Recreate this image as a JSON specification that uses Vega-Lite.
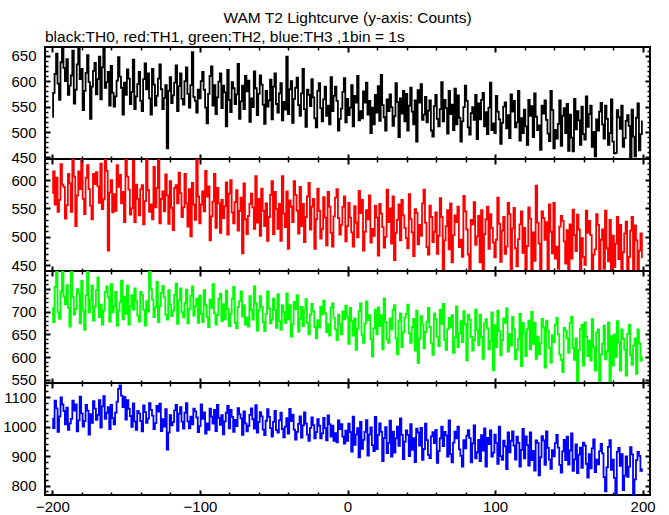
{
"$schema": "https://vega.github.io/schema/vega-lite/v6.json",
"background": "white",
"padding": {"left": 1, "top": 10, "right": 5, "bottom": 1},
"title": {"text": "WAM T2 Lightcurve (y-axis: Counts)", "anchor": "middle", "frame": "group", "font": "Liberation Sans", "fontSize": 15.5, "fontWeight": "normal", "color": "black", "offset": 3},
"spacing": 0,
"bounds": "flush",
"resolve": {"scale": {"y": "independent"}},
"config": {
  "view": {"stroke": "black", "strokeWidth": 2},
  "axis": {"domain": false, "grid": false, "labelFont": "Liberation Sans", "labelFontSize": 15, "labelColor": "black", "tickColor": "black", "labelFlush": false, "labelOverlap": false, "labelBound": false}
},
"data": {"values": [
{"t":-200,"a":530,"b":577,"c":708,"d":1027},{"t":-198,"a":614,"b":557,"c":754,"d":1088},{"t":-199,"a":577,"b":615,"c":677,"d":995},{"t":-197,"a":654,"b":604,"c":792,"d":1062},{"t":-196,"a":595,"b":544,"c":698,"d":982},
{"t":-194,"a":637,"b":628,"c":744,"d":1099},{"t":-195,"a":563,"b":565,"c":684,"d":1035},{"t":-193,"a":675,"b":592,"c":789,"d":1075},{"t":-191,"a":600,"b":532,"c":716,"d":1008},{"t":-192,"a":626,"b":588,"c":733,"d":1053},
{"t":-189,"a":573,"b":611,"c":708,"d":989},{"t":-190,"a":643,"b":556,"c":758,"d":1064},{"t":-188,"a":591,"b":594,"c":667,"d":1011},{"t":-186,"a":660,"b":641,"c":732,"d":1088},{"t":-187,"a":611,"b":544,"c":795,"d":1026},
{"t":-185,"a":556,"b":606,"c":693,"d":1054},{"t":-183,"a":633,"b":573,"c":749,"d":984},{"t":-184,"a":583,"b":519,"c":705,"d":1075},{"t":-182,"a":668,"b":615,"c":740,"d":1021},{"t":-181,"a":604,"b":584,"c":674,"d":1102},
{"t":-180,"a":624,"b":655,"c":767,"d":1045},{"t":-179,"a":543,"b":567,"c":702,"d":1000},{"t":-177,"a":616,"b":604,"c":736,"d":1074},{"t":-178,"a":581,"b":540,"c":660,"d":1019},{"t":-176,"a":651,"b":626,"c":791,"d":1054},
{"t":-175,"a":598,"b":584,"c":698,"d":973},{"t":-174,"a":526,"b":555,"c":725,"d":1042},{"t":-172,"a":620,"b":611,"c":680,"d":1086},{"t":-173,"a":589,"b":531,"c":757,"d":1013},{"t":-171,"a":636,"b":593,"c":711,"d":1061},
{"t":-170,"a":574,"b":614,"c":747,"d":1023},{"t":-168,"a":648,"b":560,"c":688,"d":1090},{"t":-169,"a":604,"b":589,"c":775,"d":1040},{"t":-167,"a":564,"b":629,"c":715,"d":997},{"t":-166,"a":627,"b":549,"c":671,"d":1069},
{"t":-164,"a":587,"b":640,"c":743,"d":1026},{"t":-165,"a":668,"b":566,"c":702,"d":1103},{"t":-163,"a":598,"b":616,"c":755,"d":1047},{"t":-161,"a":552,"b":578,"c":678,"d":992},{"t":-162,"a":618,"b":476,"c":731,"d":1066},
{"t":-159,"a":577,"b":543,"c":698,"d":1029},{"t":-160,"a":630,"b":600,"c":760,"d":1074},{"t":-158,"a":550,"b":575,"c":711,"d":1008},{"t":-156,"a":601,"b":626,"c":669,"d":1085},{"t":-157,"a":570,"b":546,"c":743,"d":1047},
{"t":-155,"a":647,"b":588,"c":702,"d":1128},{"t":-153,"a":587,"b":559,"c":768,"d":1105},{"t":-154,"a":609,"b":609,"c":720,"d":1140},{"t":-152,"a":534,"b":579,"c":683,"d":1066},{"t":-151,"a":597,"b":526,"c":732,"d":1101},
{"t":-150,"a":573,"b":639,"c":695,"d":1024},{"t":-149,"a":623,"b":606,"c":757,"d":1090},{"t":-147,"a":555,"b":539,"c":712,"d":1036},{"t":-148,"a":605,"b":583,"c":671,"d":1060},{"t":-146,"a":579,"b":550,"c":736,"d":999},
{"t":-145,"a":642,"b":634,"c":704,"d":1079},{"t":-144,"a":545,"b":526,"c":751,"d":1018},{"t":-142,"a":594,"b":567,"c":691,"d":1053},{"t":-143,"a":570,"b":592,"c":723,"d":989},{"t":-141,"a":618,"b":538,"c":678,"d":1045},
{"t":-140,"a":561,"b":584,"c":743,"d":1019},{"t":-138,"a":604,"b":522,"c":704,"d":1072},{"t":-139,"a":541,"b":591,"c":736,"d":984},{"t":-137,"a":635,"b":563,"c":669,"d":1049},{"t":-136,"a":584,"b":642,"c":723,"d":1013},
{"t":-134,"a":566,"b":544,"c":790,"d":1080},{"t":-135,"a":615,"b":582,"c":700,"d":1027},{"t":-133,"a":534,"b":557,"c":749,"d":1057},{"t":-131,"a":593,"b":623,"c":688,"d":992},{"t":-132,"a":624,"b":531,"c":726,"d":1037},
{"t":-129,"a":571,"b":586,"c":765,"d":1070},{"t":-130,"a":552,"b":552,"c":709,"d":1012},{"t":-128,"a":605,"b":640,"c":677,"d":1051},{"t":-126,"a":584,"b":567,"c":741,"d":985},{"t":-127,"a":633,"b":524,"c":712,"d":1078},
{"t":-125,"a":545,"b":580,"c":756,"d":1025},{"t":-123,"a":592,"b":610,"c":693,"d":1059},{"t":-124,"a":567,"b":545,"c":731,"d":1000},{"t":-122,"a":468,"b":573,"c":682,"d":922},{"t":-121,"a":581,"b":523,"c":747,"d":980},
{"t":-120,"a":608,"b":598,"c":715,"d":1039},{"t":-119,"a":557,"b":551,"c":690,"d":1004},{"t":-117,"a":597,"b":586,"c":737,"d":1055},{"t":-118,"a":572,"b":512,"c":702,"d":1015},{"t":-116,"a":631,"b":591,"c":761,"d":1074},
{"t":-115,"a":541,"b":559,"c":673,"d":986},{"t":-114,"a":590,"b":613,"c":725,"d":1044},{"t":-112,"a":565,"b":535,"c":698,"d":1017},{"t":-113,"a":615,"b":577,"c":751,"d":1066},{"t":-111,"a":554,"b":552,"c":687,"d":993},
{"t":-110,"a":600,"b":611,"c":719,"d":1047},{"t":-108,"a":575,"b":518,"c":674,"d":1018},{"t":-109,"a":627,"b":559,"c":748,"d":1080},{"t":-107,"a":548,"b":584,"c":706,"d":994},{"t":-106,"a":592,"b":501,"c":735,"d":1034},
{"t":-104,"a":569,"b":557,"c":691,"d":1061},{"t":-105,"a":657,"b":595,"c":755,"d":1008},{"t":-103,"a":561,"b":530,"c":712,"d":1052},{"t":-101,"a":583,"b":571,"c":675,"d":981},{"t":-102,"a":538,"b":638,"c":728,"d":1031},
{"t":-99,"a":600,"b":557,"c":695,"d":1075},{"t":-100,"a":566,"b":524,"c":735,"d":1002},{"t":-98,"a":618,"b":580,"c":677,"d":1026},{"t":-96,"a":548,"b":616,"c":714,"d":976},{"t":-97,"a":583,"b":545,"c":747,"d":1048},
{"t":-95,"a":517,"b":571,"c":687,"d":1011},{"t":-93,"a":610,"b":494,"c":726,"d":1061},{"t":-94,"a":575,"b":589,"c":666,"d":989},{"t":-92,"a":629,"b":536,"c":708,"d":1034},{"t":-91,"a":552,"b":562,"c":760,"d":1010},
{"t":-90,"a":592,"b":611,"c":696,"d":1057},{"t":-89,"a":535,"b":516,"c":671,"d":985},{"t":-87,"a":599,"b":559,"c":728,"d":1030},{"t":-88,"a":568,"b":586,"c":692,"d":1074},{"t":-86,"a":615,"b":507,"c":739,"d":1006},
{"t":-85,"a":547,"b":565,"c":679,"d":1039},{"t":-84,"a":591,"b":533,"c":716,"d":974},{"t":-82,"a":511,"b":596,"c":746,"d":1047},{"t":-83,"a":578,"b":554,"c":683,"d":1018},{"t":-81,"a":622,"b":504,"c":706,"d":1070},
{"t":-80,"a":563,"b":576,"c":668,"d":994},{"t":-78,"a":598,"b":543,"c":728,"d":1033},{"t":-79,"a":539,"b":600,"c":695,"d":1057},{"t":-77,"a":586,"b":524,"c":754,"d":982},{"t":-76,"a":555,"b":561,"c":675,"d":1023},
{"t":-74,"a":634,"b":511,"c":710,"d":1063},{"t":-75,"a":574,"b":582,"c":663,"d":1002},{"t":-73,"a":526,"b":546,"c":723,"d":1042},{"t":-71,"a":591,"b":471,"c":689,"d":972},{"t":-72,"a":560,"b":569,"c":744,"d":1028},
{"t":-69,"a":610,"b":531,"c":671,"d":1011},{"t":-70,"a":545,"b":594,"c":714,"d":1052},{"t":-68,"a":580,"b":505,"c":687,"d":984},{"t":-66,"a":520,"b":558,"c":734,"d":1040},{"t":-67,"a":601,"b":537,"c":667,"d":1003},
{"t":-65,"a":566,"b":576,"c":703,"d":1062},{"t":-63,"a":619,"b":514,"c":755,"d":993},{"t":-64,"a":549,"b":552,"c":682,"d":1025},{"t":-62,"a":586,"b":607,"c":718,"d":1073},{"t":-61,"a":533,"b":525,"c":658,"d":980},
{"t":-60,"a":575,"b":567,"c":703,"d":1016},{"t":-59,"a":611,"b":502,"c":734,"d":1049},{"t":-57,"a":554,"b":546,"c":676,"d":990},{"t":-58,"a":593,"b":585,"c":710,"d":1035},{"t":-56,"a":516,"b":519,"c":657,"d":971},
{"t":-55,"a":581,"b":559,"c":695,"d":1020},{"t":-54,"a":550,"b":493,"c":744,"d":1059},{"t":-52,"a":603,"b":574,"c":674,"d":995},{"t":-53,"a":562,"b":535,"c":707,"d":1033},{"t":-51,"a":525,"b":598,"c":682,"d":966},
{"t":-50,"a":589,"b":505,"c":728,"d":1016},{"t":-48,"a":555,"b":549,"c":664,"d":988},{"t":-49,"a":615,"b":579,"c":703,"d":1053},{"t":-47,"a":538,"b":514,"c":738,"d":980},{"t":-46,"a":576,"b":558,"c":679,"d":1021},
{"t":-44,"a":523,"b":607,"c":714,"d":992},{"t":-45,"a":596,"b":493,"c":660,"d":1047},{"t":-43,"a":559,"b":541,"c":699,"d":964},{"t":-41,"a":648,"b":580,"c":740,"d":1029},{"t":-42,"a":544,"b":517,"c":675,"d":1000},
{"t":-39,"a":584,"b":564,"c":714,"d":1060},{"t":-40,"a":535,"b":479,"c":683,"d":976},{"t":-38,"a":600,"b":553,"c":645,"d":1019},{"t":-36,"a":565,"b":598,"c":721,"d":990},{"t":-37,"a":518,"b":526,"c":672,"d":1041},
{"t":-35,"a":587,"b":574,"c":705,"d":956},{"t":-33,"a":553,"b":506,"c":656,"d":1009},{"t":-34,"a":607,"b":546,"c":736,"d":982},{"t":-32,"a":532,"b":588,"c":684,"d":1035},{"t":-31,"a":576,"b":519,"c":710,"d":963},
{"t":-30,"a":624,"b":558,"c":668,"d":1004},{"t":-29,"a":545,"b":491,"c":704,"d":1048},{"t":-27,"a":583,"b":571,"c":675,"d":973},{"t":-28,"a":510,"b":535,"c":727,"d":1010},{"t":-26,"a":573,"b":595,"c":650,"d":952},
{"t":-25,"a":551,"b":513,"c":693,"d":996},{"t":-24,"a":604,"b":553,"c":717,"d":1031},{"t":-22,"a":527,"b":479,"c":666,"d":960},{"t":-23,"a":568,"b":567,"c":700,"d":1005},{"t":-21,"a":509,"b":531,"c":641,"d":981},
{"t":-20,"a":581,"b":585,"c":681,"d":1025},{"t":-18,"a":547,"b":497,"c":710,"d":960},{"t":-19,"a":596,"b":546,"c":665,"d":1003},{"t":-17,"a":521,"b":514,"c":693,"d":977},{"t":-16,"a":564,"b":570,"c":724,"d":1030},
{"t":-14,"a":532,"b":485,"c":655,"d":953},{"t":-15,"a":589,"b":534,"c":696,"d":995},{"t":-13,"a":552,"b":579,"c":672,"d":1038},{"t":-11,"a":608,"b":507,"c":709,"d":966},{"t":-12,"a":515,"b":553,"c":647,"d":1008},
{"t":-9,"a":571,"b":536,"c":686,"d":952},{"t":-10,"a":541,"b":483,"c":718,"d":1003},{"t":-8,"a":589,"b":569,"c":661,"d":978},{"t":-6,"a":503,"b":533,"c":693,"d":1021},{"t":-7,"a":561,"b":584,"c":637,"d":947},
{"t":-5,"a":526,"b":504,"c":673,"d":992},{"t":-3,"a":579,"b":553,"c":700,"d":966},{"t":-4,"a":546,"b":521,"c":650,"d":1008},{"t":-2,"a":606,"b":571,"c":683,"d":942},{"t":-1,"a":519,"b":492,"c":713,"d":986},
{"t":0,"a":565,"b":519,"c":689,"d":952},{"t":1,"a":533,"b":560,"c":629,"d":1010},{"t":3,"a":592,"b":508,"c":679,"d":915},{"t":2,"a":548,"b":534,"c":708,"d":981},{"t":4,"a":511,"b":483,"c":647,"d":1034},
{"t":5,"a":571,"b":554,"c":685,"d":938},{"t":6,"a":558,"b":525,"c":616,"d":973},{"t":8,"a":523,"b":581,"c":701,"d":896},{"t":7,"a":610,"b":499,"c":662,"d":995},{"t":9,"a":541,"b":542,"c":718,"d":1016},
{"t":10,"a":527,"b":565,"c":649,"d":925},{"t":12,"a":558,"b":509,"c":674,"d":982},{"t":11,"a":580,"b":476,"c":631,"d":955},{"t":13,"a":597,"b":547,"c":722,"d":1022},{"t":14,"a":534,"b":531,"c":681,"d":902},
{"t":16,"a":498,"b":490,"c":639,"d":997},{"t":15,"a":561,"b":573,"c":692,"d":973},{"t":17,"a":548,"b":514,"c":601,"d":937},{"t":19,"a":573,"b":555,"c":704,"d":1033},{"t":18,"a":515,"b":502,"c":663,"d":917},
{"t":21,"a":590,"b":467,"c":709,"d":972},{"t":20,"a":538,"b":534,"c":650,"d":924},{"t":22,"a":522,"b":558,"c":668,"d":1011},{"t":24,"a":553,"b":517,"c":617,"d":883},{"t":23,"a":612,"b":541,"c":692,"d":982},
{"t":25,"a":529,"b":481,"c":729,"d":961},{"t":27,"a":564,"b":583,"c":639,"d":910},{"t":26,"a":503,"b":500,"c":677,"d":998},{"t":28,"a":541,"b":526,"c":631,"d":945},{"t":29,"a":574,"b":550,"c":685,"d":1020},
{"t":30,"a":549,"b":488,"c":661,"d":898},{"t":31,"a":512,"b":571,"c":704,"d":983},{"t":33,"a":596,"b":507,"c":641,"d":960},{"t":32,"a":531,"b":459,"c":714,"d":912},{"t":34,"a":559,"b":530,"c":606,"d":1000},
{"t":35,"a":490,"b":557,"c":680,"d":935},{"t":36,"a":566,"b":494,"c":696,"d":1028},{"t":38,"a":581,"b":538,"c":654,"d":890},{"t":37,"a":536,"b":565,"c":622,"d":972},{"t":39,"a":521,"b":516,"c":687,"d":949},
{"t":40,"a":575,"b":498,"c":695,"d":987},{"t":42,"a":552,"b":575,"c":652,"d":900},{"t":41,"a":503,"b":480,"c":715,"d":972},{"t":43,"a":587,"b":531,"c":631,"d":1008},{"t":44,"a":540,"b":508,"c":666,"d":921},
{"t":46,"a":562,"b":549,"c":614,"d":880},{"t":45,"a":515,"b":466,"c":684,"d":961},{"t":47,"a":481,"b":542,"c":702,"d":993},{"t":49,"a":558,"b":521,"c":640,"d":936},{"t":48,"a":582,"b":487,"c":587,"d":980},
{"t":51,"a":524,"b":559,"c":671,"d":887},{"t":50,"a":594,"b":502,"c":690,"d":996},{"t":52,"a":534,"b":583,"c":619,"d":924},{"t":54,"a":519,"b":482,"c":678,"d":954},{"t":53,"a":569,"b":525,"c":655,"d":1010},
{"t":55,"a":542,"b":469,"c":708,"d":904},{"t":57,"a":503,"b":535,"c":631,"d":967},{"t":56,"a":562,"b":555,"c":666,"d":893},{"t":58,"a":491,"b":491,"c":605,"d":981},{"t":59,"a":551,"b":509,"c":696,"d":944},
{"t":60,"a":573,"b":543,"c":683,"d":989},{"t":61,"a":526,"b":470,"c":645,"d":877},{"t":63,"a":545,"b":568,"c":704,"d":960},{"t":62,"a":511,"b":502,"c":624,"d":917},{"t":64,"a":598,"b":535,"c":673,"d":1000},
{"t":65,"a":521,"b":436,"c":717,"d":934},{"t":66,"a":563,"b":494,"c":637,"d":982},{"t":68,"a":497,"b":547,"c":661,"d":898},{"t":67,"a":547,"b":519,"c":616,"d":970},{"t":69,"a":581,"b":478,"c":686,"d":1021},
{"t":70,"a":535,"b":559,"c":666,"d":907},{"t":72,"a":504,"b":503,"c":609,"d":946},{"t":71,"a":554,"b":455,"c":692,"d":879},{"t":73,"a":585,"b":538,"c":643,"d":983},{"t":74,"a":515,"b":526,"c":711,"d":960},
{"t":76,"a":528,"b":482,"c":652,"d":923},{"t":75,"a":572,"b":553,"c":622,"d":1000},{"t":77,"a":481,"b":495,"c":679,"d":901},{"t":79,"a":549,"b":572,"c":701,"d":954},{"t":78,"a":521,"b":465,"c":633,"d":864},
{"t":81,"a":561,"b":513,"c":593,"d":969},{"t":80,"a":591,"b":545,"c":672,"d":926},{"t":82,"a":509,"b":469,"c":693,"d":988},{"t":84,"a":537,"b":530,"c":644,"d":879},{"t":83,"a":495,"b":442,"c":682,"d":961},
{"t":85,"a":549,"b":522,"c":614,"d":943},{"t":87,"a":573,"b":486,"c":704,"d":892},{"t":86,"a":524,"b":561,"c":637,"d":1004},{"t":88,"a":486,"b":501,"c":659,"d":913},{"t":89,"a":556,"b":537,"c":626,"d":955},
{"t":90,"a":525,"b":455,"c":693,"d":883},{"t":91,"a":563,"b":547,"c":644,"d":971},{"t":93,"a":511,"b":505,"c":674,"d":994},{"t":92,"a":577,"b":435,"c":596,"d":919},{"t":94,"a":539,"b":531,"c":683,"d":864},
{"t":95,"a":496,"b":553,"c":663,"d":962},{"t":96,"a":548,"b":479,"c":617,"d":941},{"t":98,"a":504,"b":516,"c":698,"d":898},{"t":97,"a":597,"b":540,"c":635,"d":987},{"t":99,"a":517,"b":490,"c":571,"d":912},
{"t":100,"a":498,"b":464,"c":670,"d":973},{"t":102,"a":540,"b":569,"c":702,"d":874},{"t":101,"a":571,"b":495,"c":622,"d":944},{"t":103,"a":525,"b":523,"c":657,"d":1000},{"t":104,"a":477,"b":456,"c":604,"d":900},
{"t":106,"a":550,"b":535,"c":685,"d":952},{"t":105,"a":518,"b":511,"c":637,"d":887},{"t":107,"a":558,"b":470,"c":675,"d":933},{"t":109,"a":533,"b":560,"c":612,"d":980},{"t":108,"a":507,"b":483,"c":707,"d":856},
{"t":111,"a":574,"b":432,"c":625,"d":952},{"t":110,"a":488,"b":540,"c":651,"d":913},{"t":112,"a":540,"b":515,"c":688,"d":984},{"t":114,"a":509,"b":480,"c":595,"d":888},{"t":113,"a":561,"b":551,"c":661,"d":936},
{"t":115,"a":519,"b":448,"c":616,"d":966},{"t":117,"a":483,"b":522,"c":695,"d":864},{"t":116,"a":581,"b":496,"c":640,"d":945},{"t":118,"a":527,"b":545,"c":580,"d":921},{"t":119,"a":498,"b":472,"c":675,"d":992},
{"t":120,"a":544,"b":516,"c":654,"d":892},{"t":121,"a":511,"b":430,"c":602,"d":967},{"t":123,"a":563,"b":552,"c":680,"d":868},{"t":122,"a":475,"b":484,"c":662,"d":937},{"t":124,"a":532,"b":532,"c":617,"d":980},
{"t":125,"a":551,"b":428,"c":699,"d":886},{"t":126,"a":490,"b":508,"c":629,"d":918},{"t":128,"a":530,"b":590,"c":596,"d":953},{"t":127,"a":576,"b":458,"c":675,"d":851},{"t":129,"a":504,"b":525,"c":645,"d":945},
{"t":130,"a":513,"b":488,"c":606,"d":835},{"t":132,"a":552,"b":545,"c":684,"d":968},{"t":131,"a":465,"b":440,"c":630,"d":896},{"t":133,"a":536,"b":533,"c":665,"d":953},{"t":134,"a":562,"b":495,"c":577,"d":870},
{"t":136,"a":497,"b":430,"c":658,"d":928},{"t":135,"a":524,"b":526,"c":680,"d":984},{"t":137,"a":482,"b":557,"c":620,"d":888},{"t":139,"a":543,"b":471,"c":648,"d":920},{"t":138,"a":581,"b":509,"c":588,"d":857},
{"t":141,"a":504,"b":462,"c":671,"d":944},{"t":140,"a":468,"b":560,"c":633,"d":899},{"t":142,"a":487,"b":483,"c":686,"d":972},{"t":144,"a":562,"b":518,"c":606,"d":870},{"t":143,"a":516,"b":444,"c":650,"d":929},
{"t":145,"a":473,"b":537,"c":594,"d":844},{"t":147,"a":547,"b":492,"c":664,"d":955},{"t":146,"a":532,"b":528,"c":567,"d":916},{"t":148,"a":498,"b":453,"c":658,"d":886},{"t":149,"a":555,"b":512,"c":641,"d":966},
{"t":150,"a":463,"b":429,"c":609,"d":871},{"t":151,"a":534,"b":522,"c":675,"d":919},{"t":153,"a":462,"b":548,"c":620,"d":850},{"t":152,"a":489,"b":462,"c":689,"d":977},{"t":154,"a":565,"b":503,"c":594,"d":889},
{"t":155,"a":505,"b":475,"c":641,"d":940},{"t":156,"a":541,"b":539,"c":541,"d":842},{"t":158,"a":475,"b":433,"c":662,"d":929},{"t":157,"a":523,"b":513,"c":615,"d":905},{"t":159,"a":550,"b":498,"c":671,"d":860},
{"t":160,"a":496,"b":465,"c":581,"d":946},{"t":162,"a":570,"b":546,"c":645,"d":874},{"t":161,"a":485,"b":451,"c":676,"d":936},{"t":163,"a":510,"b":507,"c":602,"d":827},{"t":164,"a":535,"b":528,"c":636,"d":907},
{"t":166,"a":471,"b":433,"c":683,"d":926},{"t":165,"a":552,"b":503,"c":592,"d":858},{"t":167,"a":500,"b":469,"c":622,"d":957},{"t":169,"a":525,"b":540,"c":654,"d":888},{"t":168,"a":452,"b":478,"c":570,"d":846},
{"t":171,"a":540,"b":431,"c":541,"d":917},{"t":170,"a":503,"b":521,"c":661,"d":872},{"t":172,"a":557,"b":495,"c":606,"d":941},{"t":174,"a":487,"b":444,"c":669,"d":829},{"t":173,"a":515,"b":513,"c":629,"d":909},
{"t":175,"a":552,"b":546,"c":595,"d":780},{"t":177,"a":475,"b":457,"c":676,"d":931},{"t":176,"a":526,"b":480,"c":613,"d":862},{"t":178,"a":498,"b":530,"c":546,"d":954},{"t":179,"a":564,"b":436,"c":646,"d":853},
{"t":180,"a":481,"b":502,"c":581,"d":888},{"t":181,"a":458,"b":447,"c":650,"d":826},{"t":183,"a":543,"b":535,"c":679,"d":915},{"t":182,"a":459,"b":488,"c":600,"d":765},{"t":184,"a":529,"b":461,"c":632,"d":928},
{"t":185,"a":506,"b":521,"c":570,"d":867},{"t":186,"a":552,"b":432,"c":661,"d":907},{"t":188,"a":488,"b":506,"c":616,"d":834},{"t":187,"a":471,"b":473,"c":640,"d":785},{"t":189,"a":522,"b":527,"c":559,"d":899},
{"t":190,"a":533,"b":428,"c":651,"d":830},{"t":192,"a":449,"b":511,"c":604,"d":930},{"t":191,"a":512,"b":465,"c":671,"d":864},{"t":193,"a":544,"b":535,"c":583,"d":906},{"t":194,"a":491,"b":438,"c":625,"d":762},
{"t":196,"a":528,"b":494,"c":563,"d":886},{"t":195,"a":452,"b":520,"c":641,"d":821},{"t":197,"a":556,"b":430,"c":661,"d":914},{"t":199,"a":496,"b":506,"c":592,"d":850},{"t":198,"a":464,"b":476,"c":630,"d":901},
{"t":200,"a":521,"b":464,"c":599,"d":856}
]},
"vconcat": [
{
  "width": 605, "height": 112,
  "title": {"text": "black:TH0, red:TH1, green:TH2, blue:TH3 ,1bin = 1s", "anchor": "start", "frame": "group", "font": "Liberation Sans", "fontSize": 15.5, "fontWeight": "normal", "color": "black", "offset": -3},
  "layer": [
    {"mark": {"type": "line", "color": "#000000", "strokeWidth": 1.8, "interpolate": "step", "clip": true},
     "encoding": {
       "x": {"field": "t", "type": "quantitative", "scale": {"domain": [-205, 205], "nice": false, "zero": false}, "axis": null},
       "y": {"field": "a", "type": "quantitative", "scale": {"domain": [447, 667], "nice": false, "zero": false}, "axis": {"orient": "left", "values": [450, 500, 550, 600, 650], "format": "d", "ticks": false, "labelPadding": 9, "title": null}}}},
    {"mark": {"type": "line", "opacity": 0},
     "encoding": {
       "x": {"field": "t", "type": "quantitative", "axis": {"orient": "bottom", "values": [-200, -100, 0, 100, 200], "labels": false, "tickSize": -5, "tickWidth": 2, "title": null, "zindex": 1}},
       "y": {"field": "a", "type": "quantitative", "axis": {"orient": "left", "values": [450, 500, 550, 600, 650], "labels": false, "tickSize": -5, "tickWidth": 2, "title": null, "zindex": 1}}}},
    {"mark": {"type": "line", "opacity": 0},
     "encoding": {
       "x": {"field": "t", "type": "quantitative", "axis": {"orient": "bottom", "values": [-180, -160, -140, -120, -80, -60, -40, -20, 20, 40, 60, 80, 120, 140, 160, 180], "labels": false, "tickSize": -3, "tickWidth": 1.5, "title": null, "zindex": 1}},
       "y": {"field": "a", "type": "quantitative", "axis": {"orient": "left", "values": [460, 470, 480, 490, 510, 520, 530, 540, 560, 570, 580, 590, 610, 620, 630, 640, 660], "labels": false, "tickSize": -3, "tickWidth": 1.5, "title": null, "zindex": 1}}}},
    {"mark": {"type": "line", "opacity": 0},
     "encoding": {
       "x": {"field": "t", "type": "quantitative", "axis": {"orient": "top", "values": [-200, -100, 0, 100, 200], "labels": false, "tickSize": -5, "tickWidth": 2, "title": null, "zindex": 1}},
       "y": {"field": "a", "type": "quantitative", "axis": {"orient": "right", "values": [450, 500, 550, 600, 650], "labels": false, "tickSize": -5, "tickWidth": 2, "title": null, "zindex": 1}}}},
    {"mark": {"type": "line", "opacity": 0},
     "encoding": {
       "x": {"field": "t", "type": "quantitative", "axis": {"orient": "top", "values": [-180, -160, -140, -120, -80, -60, -40, -20, 20, 40, 60, 80, 120, 140, 160, 180], "labels": false, "tickSize": -3, "tickWidth": 1.5, "title": null, "zindex": 1}},
       "y": {"field": "a", "type": "quantitative", "axis": {"orient": "right", "values": [460, 470, 480, 490, 510, 520, 530, 540, 560, 570, 580, 590, 610, 620, 630, 640, 660], "labels": false, "tickSize": -3, "tickWidth": 1.5, "title": null, "zindex": 1}}}}
  ],
  "resolve": {"axis": {"x": "independent", "y": "independent"}}
},
{
  "width": 605, "height": 112,
  "layer": [
    {"mark": {"type": "line", "color": "#ff0000", "strokeWidth": 1.8, "interpolate": "step", "clip": true},
     "encoding": {
       "x": {"field": "t", "type": "quantitative", "scale": {"domain": [-205, 205], "nice": false, "zero": false}, "axis": null},
       "y": {"field": "b", "type": "quantitative", "scale": {"domain": [440, 637], "nice": false, "zero": false}, "axis": {"orient": "left", "values": [450, 500, 550, 600], "format": "d", "ticks": false, "labelPadding": 9, "title": null}}}},
    {"mark": {"type": "line", "opacity": 0},
     "encoding": {
       "x": {"field": "t", "type": "quantitative", "axis": {"orient": "bottom", "values": [-200, -100, 0, 100, 200], "labels": false, "tickSize": -5, "tickWidth": 2, "title": null, "zindex": 1}},
       "y": {"field": "b", "type": "quantitative", "axis": {"orient": "left", "values": [450, 500, 550, 600], "labels": false, "tickSize": -5, "tickWidth": 2, "title": null, "zindex": 1}}}},
    {"mark": {"type": "line", "opacity": 0},
     "encoding": {
       "x": {"field": "t", "type": "quantitative", "axis": {"orient": "bottom", "values": [-180, -160, -140, -120, -80, -60, -40, -20, 20, 40, 60, 80, 120, 140, 160, 180], "labels": false, "tickSize": -3, "tickWidth": 1.5, "title": null, "zindex": 1}},
       "y": {"field": "b", "type": "quantitative", "axis": {"orient": "left", "values": [460, 470, 480, 490, 510, 520, 530, 540, 560, 570, 580, 590, 610, 620, 630], "labels": false, "tickSize": -3, "tickWidth": 1.5, "title": null, "zindex": 1}}}},
    {"mark": {"type": "line", "opacity": 0},
     "encoding": {
       "x": {"field": "t", "type": "quantitative", "axis": {"orient": "top", "values": [-200, -100, 0, 100, 200], "labels": false, "tickSize": -5, "tickWidth": 2, "title": null, "zindex": 1}},
       "y": {"field": "b", "type": "quantitative", "axis": {"orient": "right", "values": [450, 500, 550, 600], "labels": false, "tickSize": -5, "tickWidth": 2, "title": null, "zindex": 1}}}},
    {"mark": {"type": "line", "opacity": 0},
     "encoding": {
       "x": {"field": "t", "type": "quantitative", "axis": {"orient": "top", "values": [-180, -160, -140, -120, -80, -60, -40, -20, 20, 40, 60, 80, 120, 140, 160, 180], "labels": false, "tickSize": -3, "tickWidth": 1.5, "title": null, "zindex": 1}},
       "y": {"field": "b", "type": "quantitative", "axis": {"orient": "right", "values": [460, 470, 480, 490, 510, 520, 530, 540, 560, 570, 580, 590, 610, 620, 630], "labels": false, "tickSize": -3, "tickWidth": 1.5, "title": null, "zindex": 1}}}}
  ],
  "resolve": {"axis": {"x": "independent", "y": "independent"}}
},
{
  "width": 605, "height": 112,
  "layer": [
    {"mark": {"type": "line", "color": "#00ff00", "strokeWidth": 1.8, "interpolate": "step", "clip": true},
     "encoding": {
       "x": {"field": "t", "type": "quantitative", "scale": {"domain": [-205, 205], "nice": false, "zero": false}, "axis": null},
       "y": {"field": "c", "type": "quantitative", "scale": {"domain": [543, 789], "nice": false, "zero": false}, "axis": {"orient": "left", "values": [550, 600, 650, 700, 750], "format": "d", "ticks": false, "labelPadding": 9, "title": null}}}},
    {"mark": {"type": "line", "opacity": 0},
     "encoding": {
       "x": {"field": "t", "type": "quantitative", "axis": {"orient": "bottom", "values": [-200, -100, 0, 100, 200], "labels": false, "tickSize": -5, "tickWidth": 2, "title": null, "zindex": 1}},
       "y": {"field": "c", "type": "quantitative", "axis": {"orient": "left", "values": [550, 600, 650, 700, 750], "labels": false, "tickSize": -5, "tickWidth": 2, "title": null, "zindex": 1}}}},
    {"mark": {"type": "line", "opacity": 0},
     "encoding": {
       "x": {"field": "t", "type": "quantitative", "axis": {"orient": "bottom", "values": [-180, -160, -140, -120, -80, -60, -40, -20, 20, 40, 60, 80, 120, 140, 160, 180], "labels": false, "tickSize": -3, "tickWidth": 1.5, "title": null, "zindex": 1}},
       "y": {"field": "c", "type": "quantitative", "axis": {"orient": "left", "values": [560, 570, 580, 590, 610, 620, 630, 640, 660, 670, 680, 690, 710, 720, 730, 740, 760, 770, 780], "labels": false, "tickSize": -3, "tickWidth": 1.5, "title": null, "zindex": 1}}}},
    {"mark": {"type": "line", "opacity": 0},
     "encoding": {
       "x": {"field": "t", "type": "quantitative", "axis": {"orient": "top", "values": [-200, -100, 0, 100, 200], "labels": false, "tickSize": -5, "tickWidth": 2, "title": null, "zindex": 1}},
       "y": {"field": "c", "type": "quantitative", "axis": {"orient": "right", "values": [550, 600, 650, 700, 750], "labels": false, "tickSize": -5, "tickWidth": 2, "title": null, "zindex": 1}}}},
    {"mark": {"type": "line", "opacity": 0},
     "encoding": {
       "x": {"field": "t", "type": "quantitative", "axis": {"orient": "top", "values": [-180, -160, -140, -120, -80, -60, -40, -20, 20, 40, 60, 80, 120, 140, 160, 180], "labels": false, "tickSize": -3, "tickWidth": 1.5, "title": null, "zindex": 1}},
       "y": {"field": "c", "type": "quantitative", "axis": {"orient": "right", "values": [560, 570, 580, 590, 610, 620, 630, 640, 660, 670, 680, 690, 710, 720, 730, 740, 760, 770, 780], "labels": false, "tickSize": -3, "tickWidth": 1.5, "title": null, "zindex": 1}}}}
  ],
  "resolve": {"axis": {"x": "independent", "y": "independent"}}
},
{
  "width": 605, "height": 112,
  "layer": [
    {"mark": {"type": "line", "color": "#0000ff", "strokeWidth": 1.8, "interpolate": "step", "clip": true},
     "encoding": {
       "x": {"field": "t", "type": "quantitative", "scale": {"domain": [-205, 205], "nice": false, "zero": false}, "axis": {"orient": "bottom", "values": [-200, -100, 0, 100, 200], "format": "d", "ticks": false, "labelPadding": 4, "title": null}},
       "y": {"field": "d", "type": "quantitative", "scale": {"domain": [768, 1148], "nice": false, "zero": false}, "axis": {"orient": "left", "values": [800, 900, 1000, 1100], "format": "d", "ticks": false, "labelPadding": 9, "title": null}}}},
    {"mark": {"type": "line", "opacity": 0},
     "encoding": {
       "x": {"field": "t", "type": "quantitative", "axis": {"orient": "bottom", "values": [-200, -100, 0, 100, 200], "labels": false, "tickSize": -5, "tickWidth": 2, "title": null, "zindex": 1}},
       "y": {"field": "d", "type": "quantitative", "axis": {"orient": "left", "values": [800, 900, 1000, 1100], "labels": false, "tickSize": -5, "tickWidth": 2, "title": null, "zindex": 1}}}},
    {"mark": {"type": "line", "opacity": 0},
     "encoding": {
       "x": {"field": "t", "type": "quantitative", "axis": {"orient": "bottom", "values": [-180, -160, -140, -120, -80, -60, -40, -20, 20, 40, 60, 80, 120, 140, 160, 180], "labels": false, "tickSize": -3, "tickWidth": 1.5, "title": null, "zindex": 1}},
       "y": {"field": "d", "type": "quantitative", "axis": {"orient": "left", "values": [780, 820, 840, 860, 880, 920, 940, 960, 980, 1020, 1040, 1060, 1080, 1120, 1140], "labels": false, "tickSize": -3, "tickWidth": 1.5, "title": null, "zindex": 1}}}},
    {"mark": {"type": "line", "opacity": 0},
     "encoding": {
       "x": {"field": "t", "type": "quantitative", "axis": {"orient": "top", "values": [-200, -100, 0, 100, 200], "labels": false, "tickSize": -5, "tickWidth": 2, "title": null, "zindex": 1}},
       "y": {"field": "d", "type": "quantitative", "axis": {"orient": "right", "values": [800, 900, 1000, 1100], "labels": false, "tickSize": -5, "tickWidth": 2, "title": null, "zindex": 1}}}},
    {"mark": {"type": "line", "opacity": 0},
     "encoding": {
       "x": {"field": "t", "type": "quantitative", "axis": {"orient": "top", "values": [-180, -160, -140, -120, -80, -60, -40, -20, 20, 40, 60, 80, 120, 140, 160, 180], "labels": false, "tickSize": -3, "tickWidth": 1.5, "title": null, "zindex": 1}},
       "y": {"field": "d", "type": "quantitative", "axis": {"orient": "right", "values": [780, 820, 840, 860, 880, 920, 940, 960, 980, 1020, 1040, 1060, 1080, 1120, 1140], "labels": false, "tickSize": -3, "tickWidth": 1.5, "title": null, "zindex": 1}}}}
  ],
  "resolve": {"axis": {"x": "independent", "y": "independent"}}
}
]
}
